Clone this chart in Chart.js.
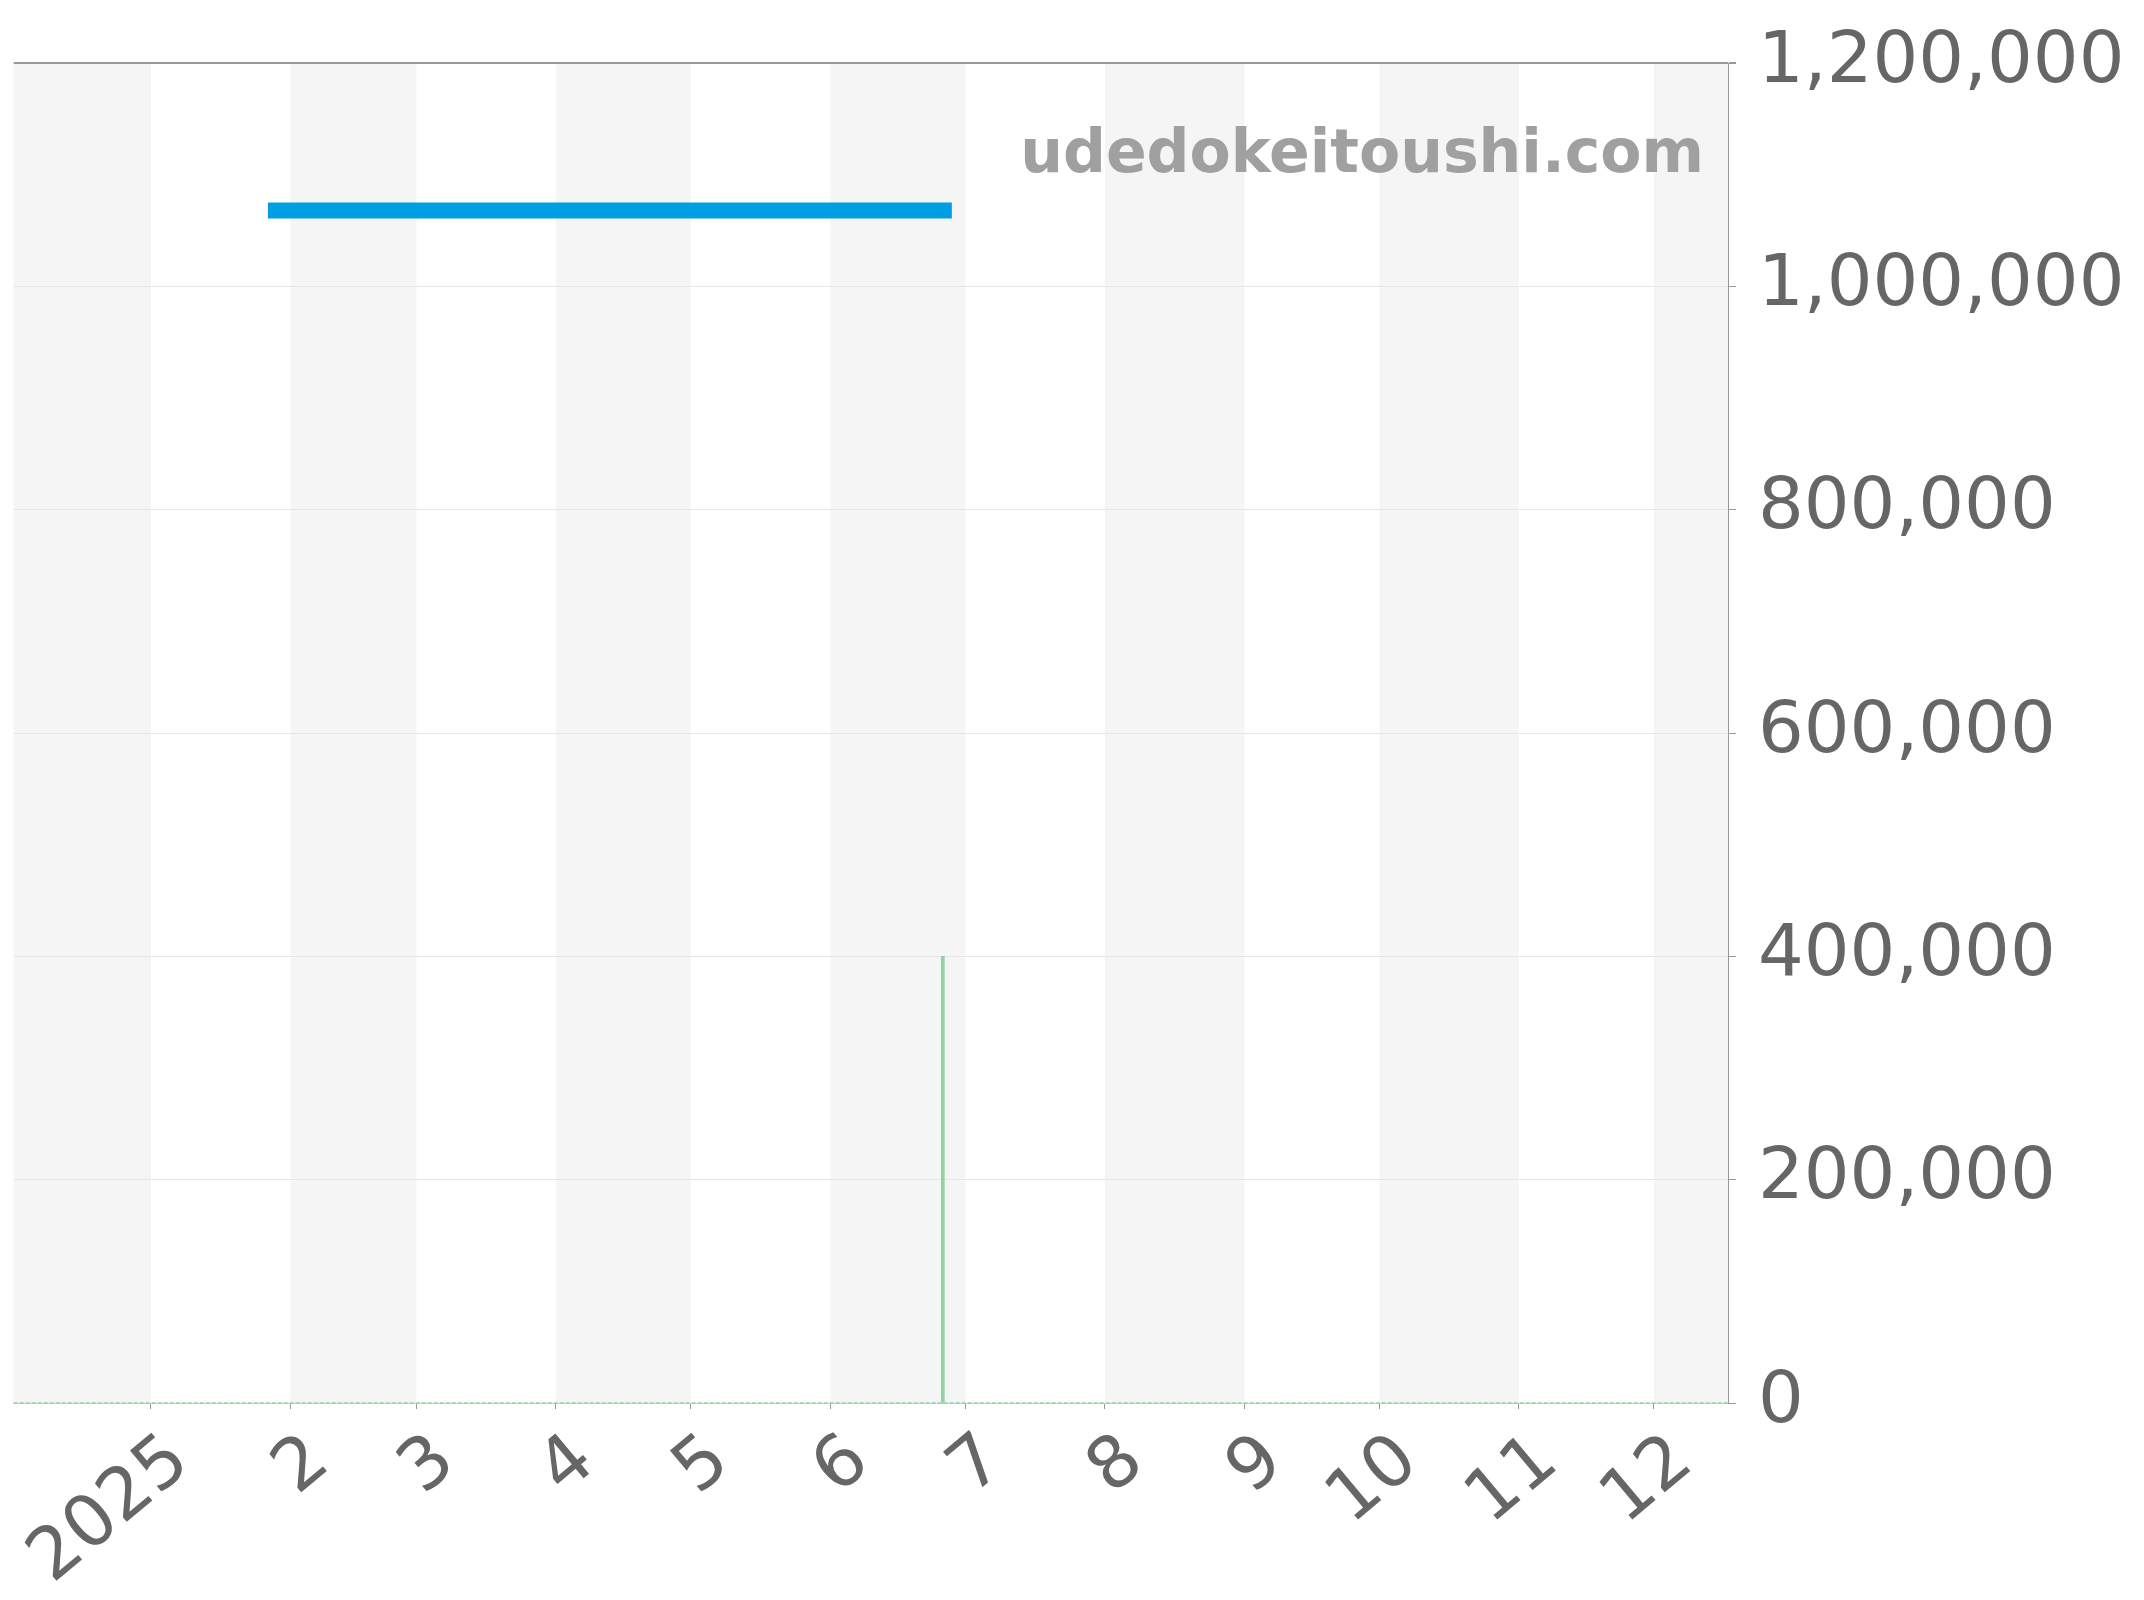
<!DOCTYPE html>
<html>
<head>
<meta charset="utf-8">
<script src="https://cdn.jsdelivr.net/npm/chart.js@4.4.1/dist/chart.umd.min.js"></script>
<style>
  html, body { margin: 0; padding: 0; background: #fff; }
  #wrap { width: 2144px; height: 1600px; }
</style>
</head>
<body>
<div id="wrap"><canvas id="myChart" width="2144" height="1600"></canvas></div>
<script>
// data
const monthTicks = ['2025-01-01', '2025-02-01', '2025-03-01', '2025-04-01', '2025-05-01', '2025-06-01',
                    '2025-07-01', '2025-08-01', '2025-09-01', '2025-10-01', '2025-11-01', '2025-12-01'];
const tickLabels = ['2025', '2', '3', '4', '5', '6', '7', '8', '9', '10', '11', '12'];
const axisRange = ['2024-12-01T12:00:00Z', '2025-12-17T12:00:00Z'];

const priceDates = ['2025-01-27', '2025-06-28'];
const priceValues = [1068000, 1068000];

const volumeDates = ['2025-06-26'];
const volumeValues = [400000];

const baseDates = ['2024-12-01T12:00:00Z', '2025-12-17T12:00:00Z'];
const baseValues = [0, 0];

const yTicks = [0, 200000, 400000, 600000, 800000, 1000000, 1200000];

// days since 2025-01-01
const DAY = 86400000;
const origin = Date.UTC(2025, 0, 1);
function toDay(s) {
  const d = s.length === 10 ? new Date(s + 'T00:00:00Z') : new Date(s);
  return (d.getTime() - origin) / DAY;
}
const tickDays = monthTicks.map(toDay);

function pairs(dates, values) {
  return dates.map((d, i) => ({ x: toDay(d), y: values[i] }));
}

// month stripes behind the plot
const stripes = {
  id: 'stripes',
  beforeDraw(chart) {
    const { ctx, chartArea, scales } = chart;
    const edges = [scales.x.min].concat(tickDays, [scales.x.max]);
    ctx.save();
    ctx.fillStyle = '#f5f5f5';
    for (let i = 0; i < edges.length - 1; i += 2) {
      const a = Math.max(scales.x.getPixelForValue(edges[i]), chartArea.left);
      const b = Math.min(scales.x.getPixelForValue(edges[i + 1]), chartArea.right);
      ctx.fillRect(a, chartArea.top, b - a, chartArea.bottom - chartArea.top);
    }
    ctx.restore();
  }
};

// site name
const watermark = {
  id: 'watermark',
  beforeDatasetsDraw(chart) {
    const { ctx, chartArea } = chart;
    ctx.save();
    ctx.font = 'bold 60px "DejaVu Sans"';
    ctx.fillStyle = '#a0a0a0';
    ctx.textAlign = 'right';
    ctx.textBaseline = 'alphabetic';
    ctx.fillText('udedokeitoushi.com', chartArea.right - 24, chartArea.top + 109);
    ctx.restore();
  }
};

const ctx = document.getElementById('myChart').getContext('2d');
const myChart = new Chart(ctx, {
  type: 'line',
  data: {
    datasets: [
      {
        label: 'price',
        data: pairs(priceDates, priceValues),
        borderColor: '#009fe3',
        borderWidth: 16,
        borderCapStyle: 'butt',
        pointRadius: 0,
        fill: false,
        order: 1
      },
      {
        type: 'bar',
        label: 'volume',
        data: pairs(volumeDates, volumeValues),
        backgroundColor: '#8fd3a0',
        barThickness: 3,
        order: 2
      },
      {
        label: 'base',
        data: pairs(baseDates, baseValues),
        borderColor: '#8fd3a0',
        borderWidth: 1.5,
        borderDash: [4, 2],
        pointRadius: 0,
        fill: false,
        clip: false,
        order: 3
      }
    ]
  },
  options: {
    responsive: false,
    devicePixelRatio: 1,
    animation: false,
    layout: { padding: { top: 63, left: 7, right: 0, bottom: 0 } },
    plugins: {
      legend: { display: false },
      tooltip: { enabled: false }
    },
    scales: {
      x: {
        type: 'linear',
        offset: false,
        min: toDay(axisRange[0]),
        max: toDay(axisRange[1]),
        afterBuildTicks: (scale) => {
          scale.ticks = tickDays.map(v => ({ value: v }));
        },
        afterFit: (scale) => { scale.height = 197; },
        grid: {
          offset: false,
          drawOnChartArea: false,
          drawTicks: true,
          tickLength: 6,
          tickColor: '#999'
        },
        border: { display: true, color: '#d0d0d0', width: 1 },
        ticks: {
          autoSkip: false,
          minRotation: 40,
          maxRotation: 40,
          padding: 10,
          labelOffset: 30,
          color: '#666',
          font: { family: 'DejaVu Sans', size: 72 },
          callback: (value) => {
            const i = tickDays.indexOf(value);
            return i >= 0 ? tickLabels[i] : '';
          }
        }
      },
      y: {
        position: 'right',
        min: 0,
        max: 1200000,
        afterBuildTicks: (scale) => {
          scale.ticks = yTicks.map(v => ({ value: v }));
        },
        afterFit: (scale) => { scale.width = 416; },
        grid: {
          color: (c) => c.tick && c.tick.value === 1200000 ? '#999' : '#e6e6e6',
          lineWidth: (c) => c.tick && c.tick.value === 1200000 ? 2 : 1,
          tickLength: 8,
          tickColor: '#999'
        },
        border: { display: true, color: '#999', width: 1 },
        ticks: {
          padding: 22,
          color: '#666',
          font: { family: 'DejaVu Sans', size: 72, lineHeight: 1 },
          callback: (value) => value.toLocaleString('en-US')
        }
      }
    }
  },
  plugins: [stripes, watermark]
});
</script>
</body>
</html>
